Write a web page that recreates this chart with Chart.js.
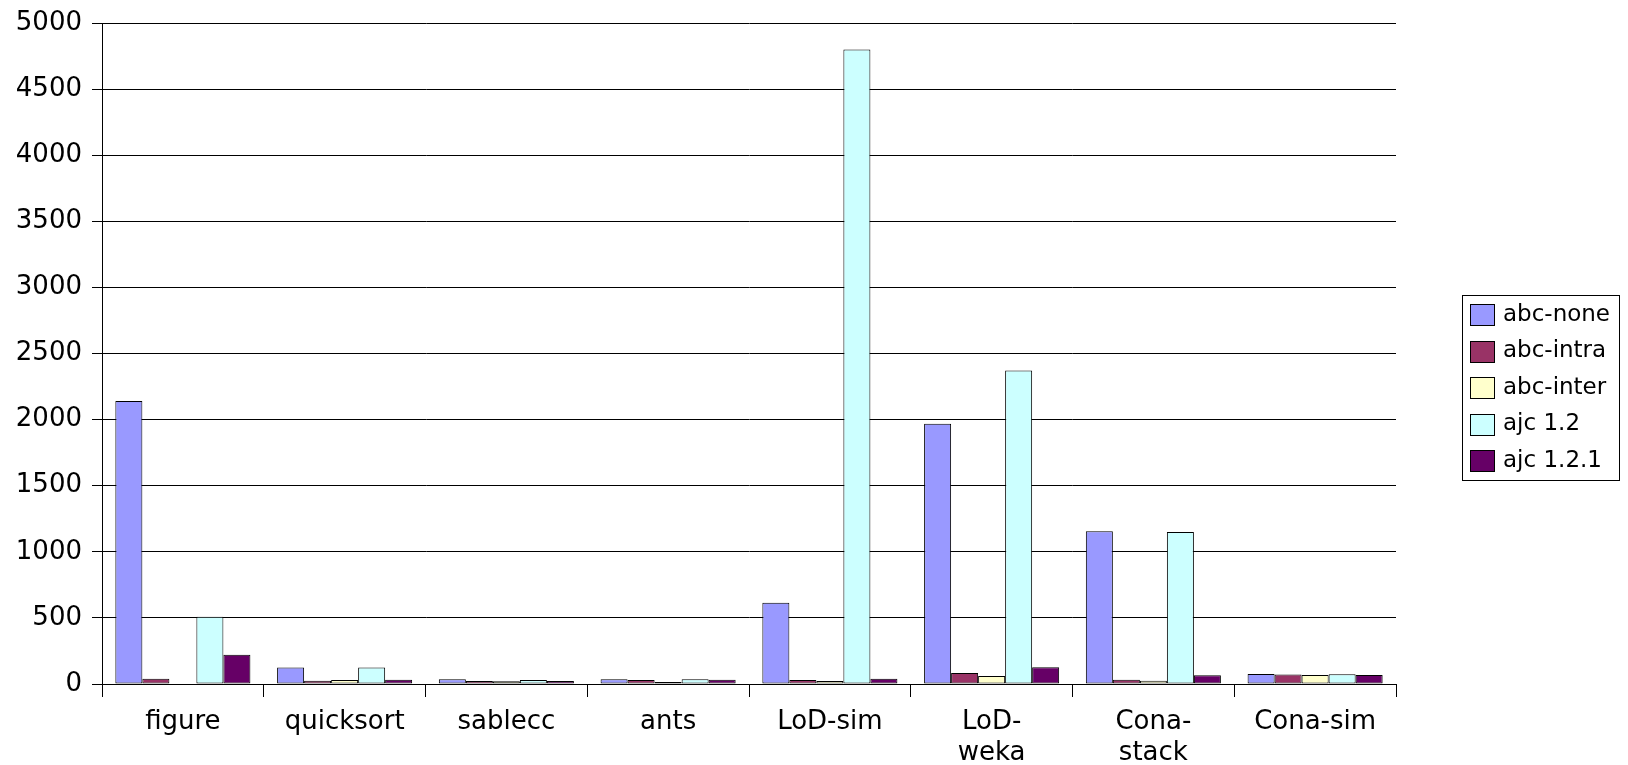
<!DOCTYPE html>
<html>
<head>
<meta charset="utf-8">
<title>Benchmark times</title>
<script src="https://cdn.jsdelivr.net/npm/chart.js@4/dist/chart.umd.min.js"></script>
<style>
  html, body { margin: 0; padding: 0; background: #ffffff; }
  #wrap { width: 1628px; height: 765px; }
</style>
</head>
<body>
<div id="wrap"><canvas id="c" width="1628" height="765"></canvas></div>
<script>
// Benchmarks on the x axis (two-line labels are given as arrays)
const categories = ['figure', 'quicksort', 'sablecc', 'ants', 'LoD-sim', ['LoD-', 'weka'], ['Cona-', 'stack'], 'Cona-sim'];

// One list per compiler configuration
const seriesNames = ['abc-none', 'abc-intra', 'abc-inter', 'ajc 1.2', 'ajc 1.2.1'];
const abcNone  = [2140, 125, 35, 35, 615, 1968, 1155, 75];
const abcIntra = [40, 25, 23, 30, 30, 83, 33, 71];
const abcInter = [0, 30, 20, 15, 23, 61, 25, 68];
const ajc12    = [508, 124, 30, 35, 4800, 2371, 1149, 73];
const ajc121   = [222, 33, 23, 33, 40, 126, 66, 68];

const seriesColors = ['#9999FF', '#993366', '#FFFFCC', '#CCFFFF', '#660066'];

// Value axis ticks
const yMin = 0, yMax = 5000, yStep = 500;

const FONT = '"DejaVu Sans", sans-serif';

// Boxed legend on the right, drawn from the chart's own datasets
const boxedLegend = {
  id: 'boxedLegend',
  afterDraw(chart) {
    const ctx = chart.ctx;
    const box = { x: 1462.5, y: 295.5, w: 157, h: 185 };
    ctx.save();
    ctx.fillStyle = '#ffffff';
    ctx.fillRect(box.x, box.y, box.w, box.h);
    ctx.strokeStyle = '#000000';
    ctx.lineWidth = 1;
    ctx.strokeRect(box.x, box.y, box.w, box.h);
    ctx.font = '23px ' + FONT;
    ctx.textBaseline = 'middle';
    ctx.textAlign = 'left';
    chart.data.datasets.forEach((ds, i) => {
      const cy = 314 + i * 36.5;
      ctx.fillStyle = ds.backgroundColor;
      ctx.fillRect(1470.5, Math.round(cy - 10) + 0.5, 24, 21);
      ctx.strokeStyle = '#000000';
      ctx.strokeRect(1470.5, Math.round(cy - 10) + 0.5, 24, 21);
      ctx.fillStyle = '#000000';
      ctx.fillText(ds.label, 1503, cy + 1);
    });
    ctx.restore();
  }
};

const values = [abcNone, abcIntra, abcInter, ajc12, ajc121];

new Chart(document.getElementById('c'), {
  type: 'bar',
  data: {
    labels: categories,
    datasets: values.map((arr, i) => ({
      label: seriesNames[i],
      data: arr,
      backgroundColor: seriesColors[i],
      borderColor: '#000000',
      borderWidth: 1,
      borderSkipped: false,
      categoryPercentage: 0.835,
      barPercentage: 1.0
    }))
  },
  options: {
    responsive: false,
    animation: false,
    devicePixelRatio: 1,
    layout: { padding: { left: 0, right: 232, top: 23, bottom: 0 } },
    plugins: {
      legend: { display: false },
      tooltip: { enabled: false },
      title: { display: false }
    },
    scales: {
      x: {
        grid: {
          display: true,
          offset: true,
          drawOnChartArea: false,
          drawTicks: true,
          tickLength: 13,
          color: '#000000',
          lineWidth: 1
        },
        border: { display: true, color: '#000000', width: 1 },
        ticks: {
          color: '#000000',
          font: { family: FONT, size: 26, lineHeight: 1.22 },
          padding: 9,
          maxRotation: 0,
          minRotation: 0,
          autoSkip: false
        },
        afterFit(scale) { scale.height = 81; }
      },
      y: {
        min: yMin,
        max: yMax,
        grid: {
          color: '#000000',
          lineWidth: 1,
          drawTicks: true,
          tickLength: 10
        },
        border: { display: true, color: '#000000', width: 1 },
        ticks: {
          stepSize: yStep,
          color: '#000000',
          font: { family: FONT, size: 26 },
          padding: 10,
          callback: (v) => String(v)
        },
        afterFit(scale) {
          scale.width = 102;
          scale.paddingTop = 0;
          scale.paddingBottom = 0;
        }
      }
    }
  },
  plugins: [boxedLegend]
});
</script>
</body>
</html>
